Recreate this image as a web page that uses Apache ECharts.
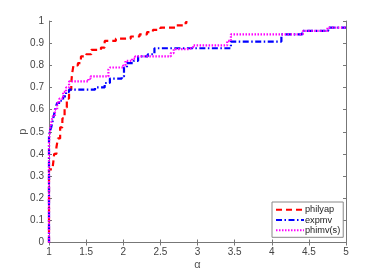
<!DOCTYPE html>
<html>
<head>
<meta charset="utf-8">
<script src="https://cdn.jsdelivr.net/npm/echarts@6/dist/echarts.min.js"></script>
<style>html,body{margin:0;padding:0;background:#fff}#c{width:382px;height:273px}</style>
</head>
<body>
<div id="c"></div>
<script>
var seriesNames = ['philyap', 'expmv', 'phimv(s)'];
var philyapX = [1, 1, 1.05, 1.07, 1.10, 1.12, 1.15, 1.18, 1.21, 1.24, 1.27, 1.30, 1.31, 1.33, 1.39, 1.43, 1.50, 1.57, 1.70, 1.75, 1.90, 2.10, 2.22, 2.32, 2.40, 2.50, 2.70, 2.82, 2.85];
var philyapY = [0, 0.33, 0.34, 0.40, 0.43, 0.47, 0.52, 0.56, 0.61, 0.65, 0.69, 0.72, 0.76, 0.80, 0.81, 0.84, 0.85, 0.87, 0.88, 0.91, 0.92, 0.93, 0.94, 0.95, 0.96, 0.97, 0.98, 0.99, 1.0];
var expmvX = [1, 1, 1.01, 1.03, 1.05, 1.07, 1.09, 1.11, 1.15, 1.19, 1.23, 1.27, 1.62, 1.75, 1.82, 1.98, 2.01, 2.05, 2.14, 2.20, 2.33, 2.42, 3.45, 4.13, 4.41, 4.76, 5];
var expmvY = [0, 0.48, 0.50, 0.52, 0.55, 0.58, 0.61, 0.63, 0.64, 0.66, 0.68, 0.69, 0.70, 0.72, 0.74, 0.75, 0.79, 0.81, 0.82, 0.84, 0.85, 0.877, 0.907, 0.94, 0.955, 0.97, 0.97];
var phimvX = [1, 1, 1.01, 1.03, 1.05, 1.08, 1.11, 1.14, 1.19, 1.23, 1.27, 1.53, 1.56, 1.80, 1.82, 2.0, 2.03, 2.12, 2.16, 2.64, 2.68, 2.88, 2.94, 3.40, 3.45, 4.42, 4.75, 5];
var phimvY = [0, 0.45, 0.50, 0.54, 0.57, 0.60, 0.63, 0.65, 0.68, 0.70, 0.727, 0.74, 0.75, 0.78, 0.79, 0.80, 0.82, 0.83, 0.84, 0.855, 0.873, 0.88, 0.89, 0.91, 0.94, 0.955, 0.97, 0.97];
var xTickLabels = ['1', '1.5', '2', '2.5', '3', '3.5', '4', '4.5', '5'];
var yTickLabels = ['0', '0.1', '0.2', '0.3', '0.4', '0.5', '0.6', '0.7', '0.8', '0.9', '1'];

function pairs(xs, ys) { return xs.map(function (x, i) { return [x, ys[i]]; }); }

var axisColor = '#777';
var font = 'Liberation Sans, Arial, sans-serif';
var chart = echarts.init(document.getElementById('c'), null, { renderer: 'canvas' });
chart.setOption({
  animation: false,
  backgroundColor: '#fff',
  grid: { left: 49, right: 36, top: 21, bottom: 30.5, containLabel: false, outerBoundsMode: 'none' },
  xAxis: [{
    type: 'value', min: 1, max: 5, interval: 0.5, position: 'bottom',
    name: 'α', nameLocation: 'middle', nameGap: 17, nameMoveOverlap: false,
    nameTextStyle: { color: '#555', fontSize: 11, fontFamily: font },
    axisLine: { show: true, lineStyle: { color: axisColor, width: 1 } },
    axisTick: { show: true, inside: true, length: 3, lineStyle: { color: axisColor } },
    axisLabel: { color: '#444', fontSize: 10, fontFamily: font, margin: 5,
      formatter: function (v) { return xTickLabels[Math.round((v - 1) / 0.5)]; } },
    splitLine: { show: false }
  }, {
    type: 'value', min: 1, max: 5, interval: 0.5, position: 'top',
    axisLine: { show: true, lineStyle: { color: axisColor, width: 1 } },
    axisTick: { show: true, inside: true, length: 3, lineStyle: { color: axisColor } },
    axisLabel: { show: false }, splitLine: { show: false }
  }],
  yAxis: [{
    type: 'value', min: 0, max: 1, interval: 0.1, position: 'left',
    name: 'p', nameLocation: 'middle', nameGap: 21, nameRotate: 90, nameMoveOverlap: false,
    nameTextStyle: { color: '#555', fontSize: 11, fontFamily: font },
    axisLine: { show: true, lineStyle: { color: axisColor, width: 1 } },
    axisTick: { show: true, inside: true, length: 3, lineStyle: { color: axisColor } },
    axisLabel: { color: '#444', fontSize: 10, fontFamily: font, margin: 5,
      formatter: function (v) { return yTickLabels[Math.round(v * 10)]; } },
    splitLine: { show: false }
  }, {
    type: 'value', min: 0, max: 1, interval: 0.1, position: 'right',
    axisLine: { show: true, lineStyle: { color: axisColor, width: 1 } },
    axisTick: { show: true, inside: true, length: 3, lineStyle: { color: axisColor } },
    axisLabel: { show: false }, splitLine: { show: false }
  }],
  legend: {
    orient: 'vertical', left: 272, top: 202,
    itemWidth: 28, itemHeight: 10, itemGap: 0.3,
    padding: [2.7, 3, 2, 3],
    backgroundColor: '#fff', borderColor: '#888', borderWidth: 1,
    itemStyle: { opacity: 0 },
    textStyle: { color: '#222', fontSize: 9.2, fontFamily: font, lineHeight: 10, padding: [0, 0, 0, -4] },
    data: seriesNames
  },
  series: [{
    name: seriesNames[0], type: 'line', step: 'end', showSymbol: false, symbol: 'none',
    data: pairs(philyapX, philyapY), z: 2,
    lineStyle: { color: '#ff0000', width: 2.2, type: [6, 4] }, itemStyle: { color: '#ff0000' }
  }, {
    name: seriesNames[1], type: 'line', step: 'end', showSymbol: false, symbol: 'none',
    data: pairs(expmvX, expmvY), z: 3,
    lineStyle: { color: '#0000ff', width: 2.2, type: [6, 2.5, 1.5, 2.5] }, itemStyle: { color: '#0000ff' }
  }, {
    name: seriesNames[2], type: 'line', step: 'end', showSymbol: false, symbol: 'none',
    data: pairs(phimvX, phimvY), z: 4,
    lineStyle: { color: '#ff00ff', width: 2.2, type: [1.5, 1.5] }, itemStyle: { color: '#ff00ff' }
  }]
});
</script>
</body>
</html>
